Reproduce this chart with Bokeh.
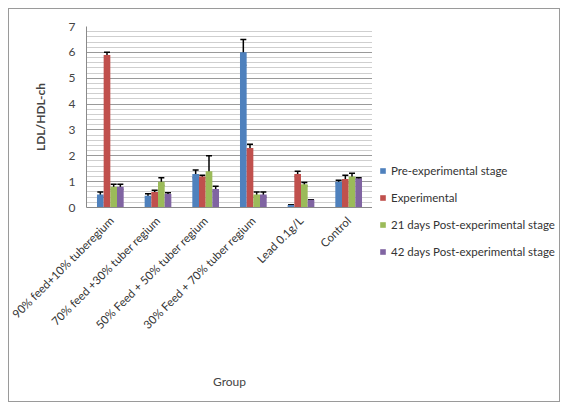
from bokeh.plotting import figure
from bokeh.models import (ColumnDataSource, FactorRange, Whisker, TeeHead, Legend, LegendItem,
                          FixedTicker, Range1d, Spacer)
from bokeh.transform import dodge
from bokeh.layouts import row, column
from bokeh.embed import file_html
from bokeh.resources import INLINE

groups = ["90% feed+10% tuberegium", "70% feed +30% tuber regium", "50% Feed + 50% tuber regium",
          "30% Feed + 70% tuber regium", "Lead 0.1g/L", "Control"]
series = ["Pre-experimental stage", "Experimental", "21 days Post-experimental stage",
          "42 days Post-experimental stage"]
pre = [0.5, 0.45, 1.3, 6.0, 0.1, 1.0]
pre_err = [0.1, 0.08, 0.15, 0.5, 0.0, 0.05]
exp = [5.9, 0.6, 1.2, 2.3, 1.3, 1.1]
exp_err = [0.1, 0.07, 0.05, 0.15, 0.1, 0.15]
d21 = [0.8, 1.0, 1.4, 0.5, 0.9, 1.2]
d21_err = [0.1, 0.15, 0.6, 0.1, 0.07, 0.12]
d42 = [0.8, 0.52, 0.72, 0.5, 0.3, 1.12]
d42_err = [0.1, 0.05, 0.1, 0.1, 0.0, 0.03]

values = [pre, exp, d21, d42]
errors = [pre_err, exp_err, d21_err, d42_err]
colors = ["#4F81BD", "#C0504D", "#9BBB59", "#8064A2"]
offsets = [-0.21, -0.07, 0.07, 0.21]
FONT = "Lato"

p = figure(x_range=FactorRange(*groups), y_range=Range1d(0, 7), width=363, height=392,
           output_backend="svg", toolbar_location=None,
           min_border_left=77, min_border_right=0, min_border_top=17, min_border_bottom=194)
p.outline_line_color = None

# legend-only panel (its own ranges keep the proxy bars out of view)
lf = figure(width=187, height=112, output_backend="svg", toolbar_location=None,
            x_range=Range1d(-30, -20), y_range=Range1d(-30, -20),
            x_axis_location=None, y_axis_location=None,
            min_border_left=0, min_border_right=0, min_border_top=0, min_border_bottom=0)
lf.grid.visible = False
lf.outline_line_color = None

items = []
for v, e, c, off, name in zip(values, errors, colors, offsets, series):
    src = ColumnDataSource(dict(g=groups, v=v,
                                lo=[a - b for a, b in zip(v, e)],
                                hi=[a + b for a, b in zip(v, e)]))
    p.vbar(x=dodge("g", off, range=p.x_range), top="v", width=0.14, source=src,
           fill_color=c, line_color=None)
    w = Whisker(base=dodge("g", off, range=p.x_range), lower="lo", upper="hi", source=src,
                line_color="black", line_width=1.5,
                upper_head=TeeHead(size=6, line_color="black", line_width=1.5),
                lower_head=TeeHead(size=6, line_color="black", line_width=1.5))
    p.add_layout(w)
    proxy = lf.vbar(x="v", top="v", width=0.1, source=src, fill_color=c, line_color=None)
    items.append(LegendItem(label=name, renderers=[proxy]))

legend = Legend(items=items, location="top_left", glyph_width=7, glyph_height=7,
                label_text_font=FONT, label_text_font_size="11.5px", label_text_color="#333333",
                spacing=14, label_standoff=5, padding=0, margin=7,
                border_line_color=None, background_fill_alpha=0)
lf.add_layout(legend, "center")

p.yaxis.ticker = FixedTicker(ticks=list(range(8)),
                             minor_ticks=[i * 0.2 for i in range(36)])
p.ygrid.grid_line_color = "#9a9a9a"
p.ygrid.minor_grid_line_color = "#cfcfcf"
p.xgrid.grid_line_color = None
p.yaxis.major_tick_line_color = None
p.yaxis.minor_tick_line_color = None
p.xaxis.major_tick_line_color = None
p.yaxis.axis_line_color = "#8a8a8a"
p.xaxis.axis_line_color = "#8a8a8a"
p.yaxis.major_label_text_font = FONT
p.yaxis.major_label_text_font_size = "12px"
p.yaxis.major_label_text_color = "#444444"
p.xaxis.major_label_text_font = FONT
p.xaxis.major_label_text_font_size = "11.5px"
p.xaxis.major_label_text_color = "#333333"
p.xaxis.major_label_orientation = 0.785
p.xaxis.axis_label = "Group"
p.xaxis.axis_label_text_font = FONT
p.xaxis.axis_label_text_font_size = "12px"
p.xaxis.axis_label_text_font_style = "normal"
p.xaxis.axis_label_standoff = 35
p.yaxis.axis_label = "LDL/HDL-ch"
p.yaxis.axis_label_text_font = FONT
p.yaxis.axis_label_text_font_size = "12px"
p.yaxis.axis_label_text_font_style = "bold"
p.yaxis.axis_label_standoff = 18

side = column(Spacer(width=187, height=148), lf, Spacer(width=187, height=132))
layout = row(p, side)
layout.styles = {"border": "1px solid #9a9a9a", "margin-left": "8px", "margin-top": "8px"}

open("out.html", "w").write(file_html(layout, INLINE))
